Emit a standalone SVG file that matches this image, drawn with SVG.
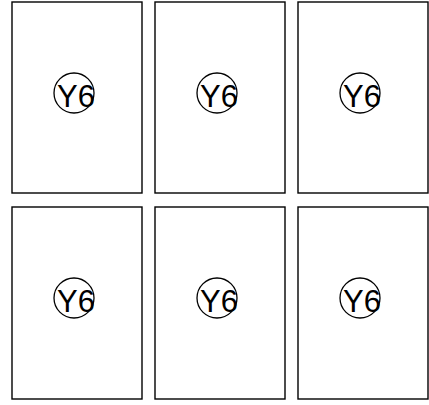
<svg xmlns="http://www.w3.org/2000/svg" width="429" height="405" viewBox="0 0 429 405">
<style>
.box{fill:#fff;stroke:#000;stroke-width:1.4}
.c{fill:none;stroke:#000;stroke-width:1.3}
.t{font-family:"Liberation Sans",Arial,sans-serif;font-size:31px;fill:#000}
</style>
<rect width="429" height="405" fill="#fff"/>
<g id="n1"><rect class="box" x="12" y="2" width="130" height="191"/><circle class="c" cx="74" cy="93" r="20"/><text class="t" x="57" y="107">Y6</text></g>
<g id="n2"><rect class="box" x="155" y="2" width="130" height="191"/><circle class="c" cx="217" cy="93" r="20"/><text class="t" x="200" y="107">Y6</text></g>
<g id="n3"><rect class="box" x="298" y="2" width="130" height="191"/><circle class="c" cx="360" cy="93" r="20"/><text class="t" x="343" y="107">Y6</text></g>
<g id="n4"><rect class="box" x="12" y="207" width="130" height="192"/><circle class="c" cx="74" cy="298" r="20"/><text class="t" x="57" y="312">Y6</text></g>
<g id="n5"><rect class="box" x="155" y="207" width="130" height="192"/><circle class="c" cx="217" cy="298" r="20"/><text class="t" x="200" y="312">Y6</text></g>
<g id="n6"><rect class="box" x="298" y="207" width="130" height="192"/><circle class="c" cx="360" cy="298" r="20"/><text class="t" x="343" y="312">Y6</text></g>
<g id="connectors"/>
</svg>
